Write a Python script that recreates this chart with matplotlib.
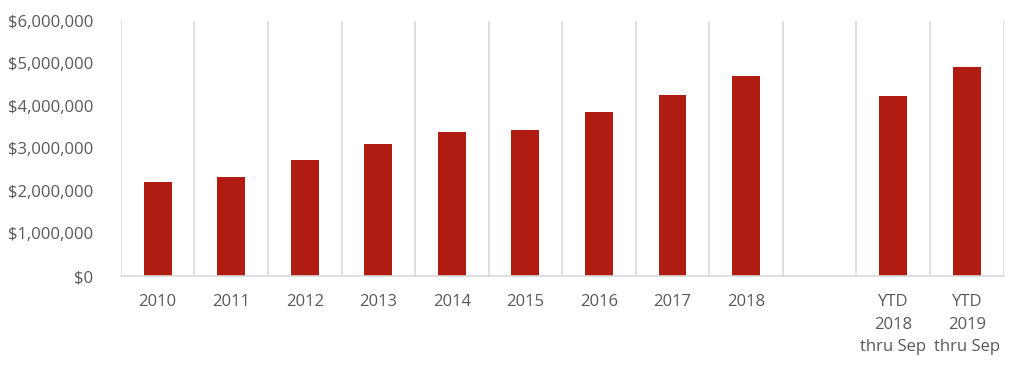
import numpy as np
import matplotlib
matplotlib.use("Agg")
import matplotlib.pyplot as plt
from matplotlib.ticker import FuncFormatter

plt.rcParams["font.family"] = ["Open Sans", "DejaVu Sans"]

categories = ["2010", "2011", "2012", "2013", "2014", "2015", "2016", "2017", "2018",
              "", "YTD\n2018\nthru Sep", "YTD\n2019\nthru Sep"]
values = [2200000, 2330000, 2720000, 3100000, 3390000, 3430000, 3850000, 4250000, 4700000,
          np.nan, 4220000, 4900000]

GRAY = "#595959"
GRID = "#d9d9d9"

fig = plt.figure(figsize=(10.24, 3.74), dpi=100)
ax = fig.add_axes([0.118, 0.262, 0.862, 0.683])
x = np.arange(len(categories))
ax.bar(x, values, width=0.38, color="#b01c12")

ax.set_xlim(-0.5, len(categories) - 0.5)
ax.set_ylim(0, 6000000)
ax.set_yticks(np.arange(0, 6000001, 1000000))
ax.yaxis.set_major_formatter(FuncFormatter(lambda v, p: f"${v:,.0f}"))
ax.set_xticks(x)
ax.set_xticklabels(categories, va="top", linespacing=1.55)
ax.set_xticks(np.arange(-0.5, len(categories)), minor=True)
ax.grid(axis="x", which="minor", color=GRID, lw=1.2)
ax.grid(axis="x", which="major", visible=False)
ax.grid(axis="y", visible=False)
ax.tick_params(axis="both", which="both", length=0, colors=GRAY, labelsize=12)
ax.tick_params(axis="x", pad=13)
ax.tick_params(axis="y", pad=20)
for s in ["top", "right", "left"]:
    ax.spines[s].set_visible(False)
ax.spines["bottom"].set_color(GRID)
ax.spines["bottom"].set_linewidth(1.2)

fig.savefig("out.png", dpi=100)
